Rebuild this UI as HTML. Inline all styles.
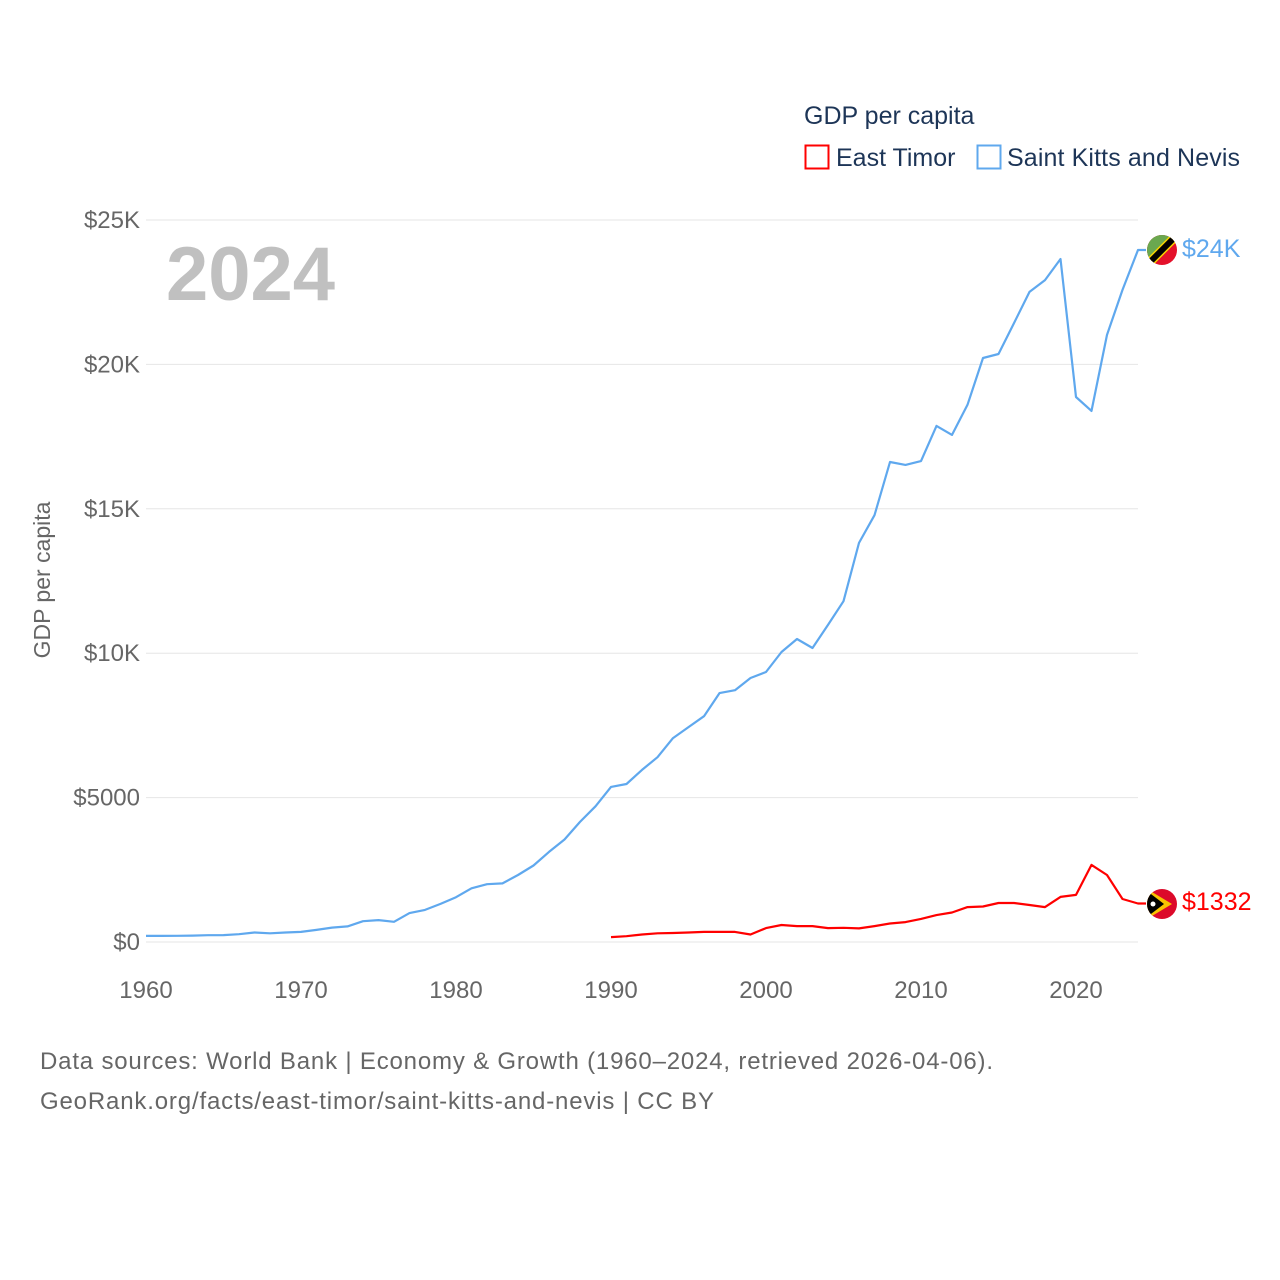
<!DOCTYPE html>
<html><head><meta charset="utf-8"><style>
body{margin:0;background:#fff;width:1280px;height:1280px;overflow:hidden;font-family:"Liberation Sans",sans-serif}
svg{display:block}
</style></head><body>
<svg id="chart" width="1280" height="1280" viewBox="0 0 1280 1280">
<g id="grid"></g>
<g id="yticks"></g>
<g id="xticks"></g>
<text x="166" y="300" font-size="76" font-weight="bold" fill="#c0c0c0">2024</text>
<text transform="translate(50,580) rotate(-90)" text-anchor="middle" font-size="23" fill="#666">GDP per capita</text>
<g id="series"></g>
<g>
<text x="804" y="124" font-size="25" fill="#1d3557">GDP per capita</text>
<g>
<rect x="805.5" y="145.5" width="23" height="23" fill="none" stroke="#ff0000" stroke-width="2"/>
<text x="836" y="166" font-size="25" fill="#1d3557">East Timor</text></g>
<g>
<rect x="977.5" y="145.5" width="23" height="23" fill="none" stroke="#5fa8ee" stroke-width="2"/>
<text x="1007" y="166" font-size="25" fill="#1d3557" textLength="233">Saint Kitts and Nevis</text></g>
</g>
<g>
<clipPath id="c1"><circle cx="1162" cy="250" r="15"/></clipPath>
<g clip-path="url(#c1)"><rect x="1147" y="235" width="30" height="30" fill="#e4112b"/>
<polygon points="1147,235 1177,235 1147,265" fill="#6aa84f"/>
<line x1="1180" y1="232" x2="1144" y2="268" stroke="#f6d300" stroke-width="9"/>
<line x1="1180" y1="232" x2="1144" y2="268" stroke="#000" stroke-width="6"/></g></g>
<g>
<clipPath id="c2"><circle cx="1162" cy="904" r="15"/></clipPath>
<g clip-path="url(#c2)"><rect x="1147" y="889" width="30" height="30" fill="#dc0a2a"/>
<polygon points="1147,889 1172,904 1147,919" fill="#f8c300"/>
<polygon points="1147,891 1164,904 1147,917" fill="#000"/>
<circle cx="1153" cy="904" r="2.5" fill="#fff"/></g></g>
<text x="1182" y="257" font-size="25" fill="#5fa8ee">$24K</text>
<text x="1182" y="910" font-size="25" fill="#ff0000">$1332</text>
<text x="40" y="1069" font-size="24" fill="#666" textLength="953">Data sources: World Bank | Economy &amp; Growth (1960–2024, retrieved 2026-04-06).</text>
<text x="40" y="1109" font-size="24" fill="#666" textLength="674">GeoRank.org/facts/east-timor/saint-kitts-and-nevis | CC BY</text>
</svg>
<script>
const yTickValues=[0,5000,10000,15000,20000,25000];
const yTickLabels=["$0","$5000","$10K","$15K","$20K","$25K"];
const xTickYears=[1960,1970,1980,1990,2000,2010,2020];
const kittsStart=1960;
const kittsValues=[210,210,215,220,235,240,270,330,300,330,350,420,500,540,720,760,700,1000,1110,1320,1550,1860,2000,2030,2320,2650,3120,3550,4160,4700,5370,5470,5960,6400,7060,7440,7820,8620,8720,9140,9350,10040,10490,10180,10980,11800,13820,14780,16620,16520,16650,17870,17560,18600,20220,20360,21430,22510,22920,23650,18870,18390,21020,22580,23960];
const timorStart=1990;
const timorValues=[170,200,260,300,310,330,350,350,350,260,480,590,550,550,480,490,470,550,640,690,800,930,1020,1210,1230,1350,1350,1280,1210,1560,1630,2670,2320,1490,1332];
const NS="http://www.w3.org/2000/svg";
const x=yr=>146+(yr-1960)*15.5;
const y=v=>942-v*(722/25000);
const grid=document.getElementById('grid'),yt=document.getElementById('yticks'),xt=document.getElementById('xticks'),ser=document.getElementById('series');
yTickValues.forEach((v,i)=>{
 const l=document.createElementNS(NS,'line');
 
 
 l.setAttribute('x1',146);l.setAttribute('x2',1138);l.setAttribute('y1',y(v));l.setAttribute('y2',y(v));
 l.setAttribute('stroke','#e6e6e6');l.setAttribute('stroke-width','1');grid.appendChild(l);
 const t=document.createElementNS(NS,'text');
 
 
 t.setAttribute('x',140);t.setAttribute('y',y(v)+8);t.setAttribute('text-anchor','end');
 t.setAttribute('font-size','24');t.setAttribute('fill','#666');t.textContent=yTickLabels[i];yt.appendChild(t);
});
xTickYears.forEach(yr=>{
 const t=document.createElementNS(NS,'text');
 
 
 t.setAttribute('x',x(yr));t.setAttribute('y',998);t.setAttribute('text-anchor','middle');
 t.setAttribute('font-size','24');t.setAttribute('fill','#666');t.textContent=yr;xt.appendChild(t);
});
function line(vals,start,color,name){
 const p=document.createElementNS(NS,'path');
 
 
 const last=vals[vals.length-1];
 p.setAttribute('d',vals.map((v,i)=>(i?'L':'M')+x(start+i).toFixed(1)+','+y(v).toFixed(1)).join('')+'L'+(x(start+vals.length-1)+8).toFixed(1)+','+y(last).toFixed(1));
 p.setAttribute('fill','none');p.setAttribute('stroke',color);p.setAttribute('stroke-width','2.2');
 p.setAttribute('stroke-linejoin','round');ser.appendChild(p);
}
line(kittsValues,kittsStart,'#5fa8ee','line-saint-kitts');
line(timorValues,timorStart,'#ff0000','line-east-timor');
</script>
</body></html>
